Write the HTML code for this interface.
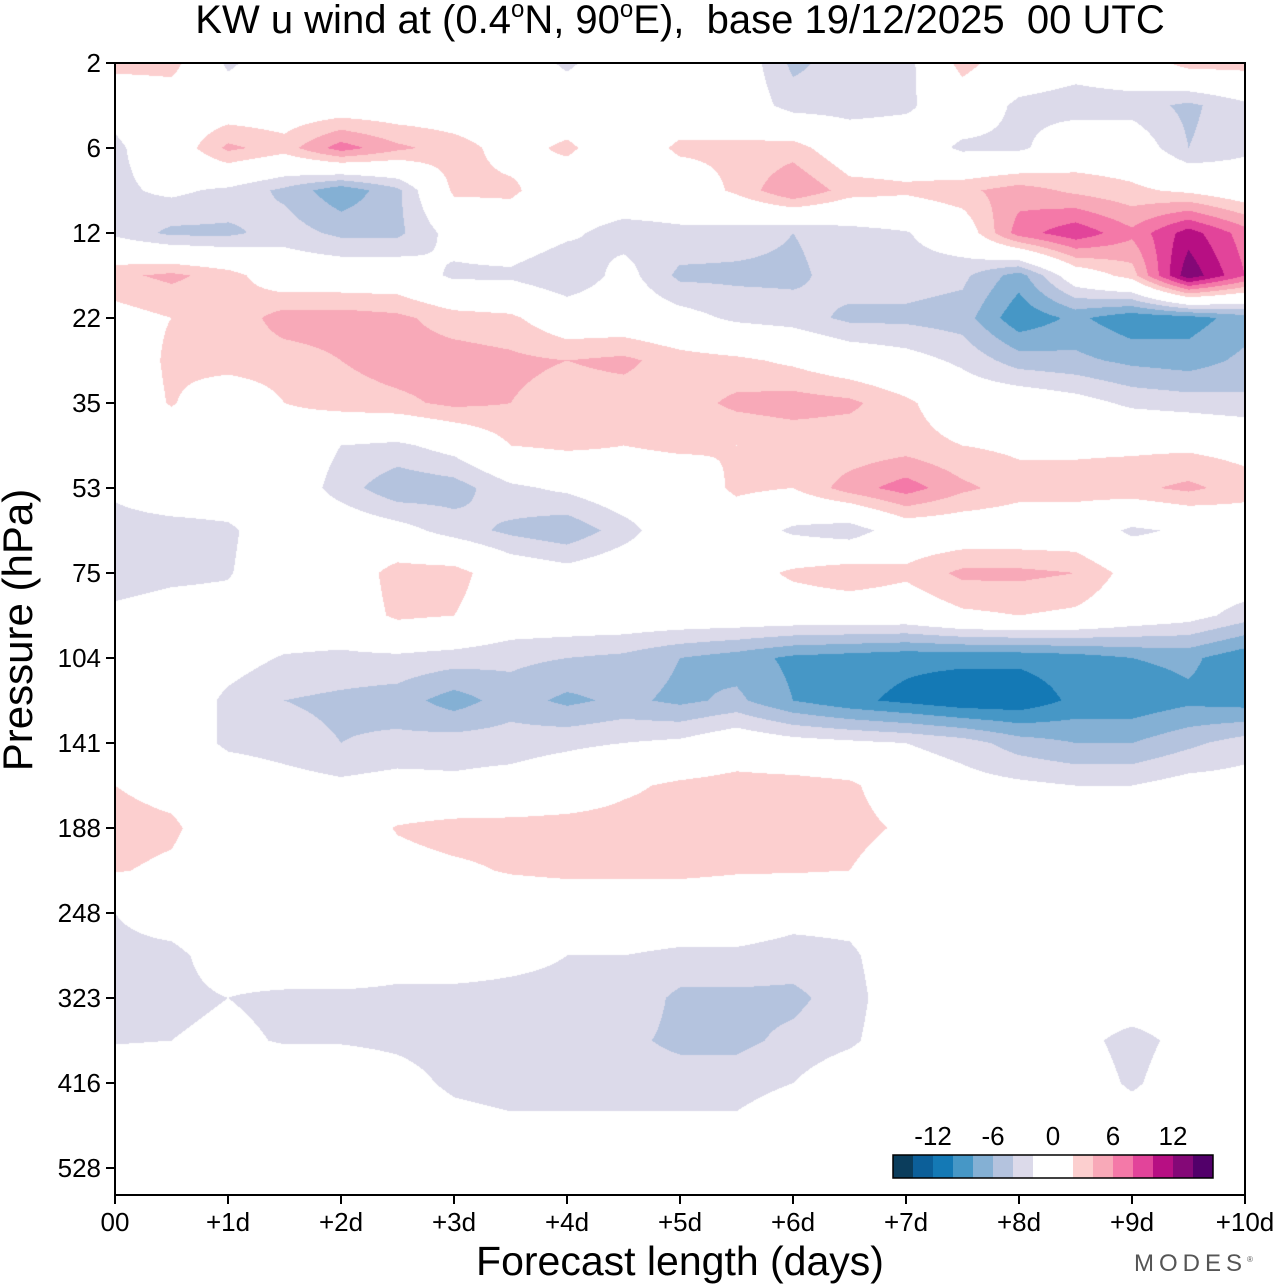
<!DOCTYPE html>
<html><head><meta charset="utf-8">
<style>
html,body{margin:0;padding:0;background:#fff;}
body{width:1280px;height:1286px;position:relative;overflow:hidden;font-family:"Liberation Sans",sans-serif;}
#plot{position:absolute;left:115px;top:63px;}
svg{position:absolute;left:0;top:0;}
</style></head>
<body>
<canvas id="plot" width="1130" height="1132"></canvas>
<svg id="ov" width="1280" height="1286"></svg>
<script>
// ---- data ----
const days = [0,0.5,1,1.5,2,2.5,3,3.5,4,4.5,5,5.5,6,6.5,7,7.5,8,8.5,9,9.5,10];
const levelRows = [0,0.5,1,1.5,2,2.5,3,3.5,4,4.5,5,5.5,6,6.5,7,7.5,8,8.5,9,9.5,10,10.5,11,11.5,12,12.5,13,13.5];
const pressureTicks = ["2","6","12","22","35","53","75","104","141","188","248","323","416","528"];
const dayTicks = ["00","+1d","+2d","+3d","+4d","+5d","+6d","+7d","+8d","+9d","+10d"];
const contourLevels = [-14,-12,-10,-8,-6,-4,-2,2,4,6,8,10,12,14];
const contourColors = ["#0b3d5c","#0c5f99","#1479b5","#4697c6","#84b0d4","#b4c3de","#dcdaea","#ffffff","#fccfcf","#f8a9b8","#f479a8","#e2449a","#b70f83","#840877","#52006a"];
const barLabels = ["-12","-6","0","6","12"];
const barLabelValues = [-12,-6,0,6,12];
const uWind = [
[3,3,-2.5,0,0,0,0,0,-2.5,0,0,0,-4.5,-3,-3,3,0,-1,0,3,3],
[-1,0,0,0,0,0,0,0,0,0,0,0,-3,-3,-2.5,0,-2.5,-3,-3,-4.5,-2.5],
[-2.5,0,4.5,3,7,4.5,3,1,2.5,0,2.5,2.5,3,0,0,-2.5,-2.5,0,0,-4,-2.5],
[-2.5,-1.5,-2.5,-4.5,-7.5,-4.5,2.5,2.5,0,0,0,2.5,6,3,2.5,3.5,5,3.5,2.5,1.5,0],
[-2.5,-4.5,-4.5,-3,-4.5,-4.5,-1,0,-1.5,-3,-2.5,-3,-4,-3,-2.2,0,7,9.5,6.5,11,7],
[3.5,4.5,3,0,0,0,-2.5,-2.5,-4,-1,-4.5,-4.5,-4.5,-3,-3,-3.5,-7,0,3,13.5,8],
[1,2,2.5,5,5,4.5,3,2.5,0,0,-1,-2.5,-3,-4.5,-4.5,-5,-9.5,-7.5,-9.5,-9,-7],
[0,2.5,3,3,4,5,5,4.5,4,4.5,3,2.5,1.5,0,-1,-2.5,-5,-5.5,-6.5,-7,-5.5],
[0,2.2,0,2,3,3.5,4.5,4,3,3,3,4.5,5,4.5,2.5,0,0,-1,-2.5,-3,-3.5],
[0,0,0,0,-2,-2.5,-1,2,2.5,2,2.5,2,2.5,2.5,3,2,1.5,1.5,1.5,1.5,1],
[-1.5,0,0,0,-3,-5.5,-5,-2.5,-1.5,0,0,2.5,2,5,7,4.5,3,3,3.5,4.5,3],
[-3,-3,-2.5,0,0,-1,-3,-4.5,-5.5,-3,0,0,-2.5,-3.5,0,0,0,0,-2.5,-1.5,0],
[-3,-2.5,-2.2,0,0,3,3,0,-1,0,0,0.5,2.5,3.5,2.5,4.5,4.5,4,1,0,0],
[-1.5,-1,-1,0,0,2.5,2,0,0,0,0,0,0,0,0,1.5,2,1.5,0,-1,-3],
[0,0,-1,-2.2,-2.5,-2.5,-3,-3.5,-4,-4.5,-6,-7,-8.5,-9,-9.5,-9.5,-9.5,-9,-8,-7.5,-9.5],
[0,0,-2.5,-4,-4.5,-5,-7,-5,-6.5,-5.5,-6.5,-5.5,-8,-9.5,-10.5,-11.5,-11.5,-9.5,-9.5,-8.5,-9],
[0,0,-2.5,-3,-4,-3.5,-3,-3,-2.5,-2,-1.5,0,-1,-1.5,-2,-3,-5,-6,-6,-4.5,-3],
[2,1,0,-1,-1.5,-1,-1.5,-1,0,1.5,2.5,3,3,2.5,0,-1,-1.5,-2,-2,-1,-1],
[3,2.5,0,0,0,2.2,3,3,3,3,3,3,3,3,1.5,0,0,0,0,0,0],
[2.2,1.5,0,0,0,1,1.5,2.2,2.5,2.5,2.5,2.2,2.2,2,0,0,0,0,0,0,0],
[-2,-1,0,0,0,0,0,0,0,0,0,0,-1,-1,0,0,0,0,0,0,0],
[-2.5,-2.5,-1,0,0,-1,-1,-1.5,-2,-2,-2.5,-2.5,-3,-2.5,0,0,0,0,0,0,0],
[-3,-2.5,-2,-2.5,-2.5,-2.5,-2.5,-2.5,-2.5,-2.5,-4.5,-4.5,-4.5,-3,0,0,0,0,0,0,0],
[-2.2,-2,-1.5,-2.2,-2.2,-2.5,-3,-3,-3,-3.5,-4.5,-4.5,-3.5,-2.5,0,0,0,-1,-3,-1,0],
[0,0,0,0,0,-1,-2.5,-3,-3,-3,-3,-3,-2,0,0,0,0,0,-2.5,0,0],
[0,0,0,0,0,0,-1,-1.5,-1.5,-1.5,-1.5,-1.5,0,0,0,0,0,0,0,0,0],
[0,0,0,0,0,0,0,0,0,0,0,0,0,0,0,0,0,0,0,0,0],
[0,0,0,0,0,0,0,0,0,0,0,0,0,0,0,0,0,0,0,0,0]
];
// ---- axes ----
const X0=115, X1=1245, Y0=63, YB=1195, PXD=113, PXL=85;
function xScale(d){return X0+PXD*d;}
function yScale(r){return Y0+PXL*r;}
function hex(c){return [parseInt(c.substr(1,2),16),parseInt(c.substr(3,2),16),parseInt(c.substr(5,2),16)];}
function sample(d,r){
  const dStep=days[1]-days[0], rStep=levelRows[1]-levelRows[0];
  let fi=(d-days[0])/dStep, fj=(r-levelRows[0])/rStep;
  fi=Math.max(0,Math.min(days.length-1.0001,fi)); fj=Math.max(0,Math.min(levelRows.length-1.0001,fj));
  const i=Math.floor(fi), j=Math.floor(fj), a=fi-i, b=fj-j;
  const v00=uWind[j][i], v01=uWind[j][i+1], v10=uWind[j+1][i], v11=uWind[j+1][i+1];
  return (v00*(1-a)+v01*a)*(1-b)+(v10*(1-a)+v11*a)*b;
}
// ---- draw field ----
const cv=document.getElementById('plot'), ctx=cv.getContext('2d');
const W=cv.width,H=cv.height, img=ctx.createImageData(W,H);
const rgb=contourColors.map(hex);
for(let py=0;py<H;py++){
  const r=(py+0.5)/PXL;
  for(let px=0;px<W;px++){
    const d=(px+0.5)/PXD;
    const v=sample(d,r);
    let k=0;while(k<contourLevels.length&&v>contourLevels[k])k++;
    const c=rgb[k], o=(py*W+px)*4;
    img.data[o]=c[0];img.data[o+1]=c[1];img.data[o+2]=c[2];img.data[o+3]=255;
  }
}
ctx.putImageData(img,0,0);
// ---- overlay ----
const NS="http://www.w3.org/2000/svg", ov=document.getElementById('ov');
function mk(tag,attrs,parent){const e=document.createElementNS(NS,tag);for(const k in attrs)e.setAttribute(k,attrs[k]);(parent||ov).appendChild(e);return e;}
const frame=mk('rect',{x:X0,y:Y0,width:X1-X0,height:YB-Y0,fill:'none',stroke:'#000','stroke-width':2});


pressureTicks.forEach((t,i)=>{
  const y=yScale(i);
  const tk=mk('line',{x1:X0-9,x2:X0,y1:y,y2:y,stroke:'#000','stroke-width':2});
  
  
  const tx=mk('text',{x:X0-14,y:y+9,'text-anchor':'end','font-size':26,'font-family':'Liberation Sans, sans-serif'});
  tx.textContent=t;
  
  
});
dayTicks.forEach((t,i)=>{
  const x=xScale(i);
  const tk=mk('line',{x1:x,x2:x,y1:YB,y2:YB+9,stroke:'#000','stroke-width':2});
  
  
  const tx=mk('text',{x:x,y:1231,'text-anchor':'middle','font-size':26,'font-family':'Liberation Sans, sans-serif'});
  tx.textContent=t;
  
  
});
// colorbar
const CB0=1053, CBU=10, cbTop=1155, cbH=23;
function cbX(v){return CB0+CBU*v;}
const edges=[-16].concat(contourLevels).concat([16]);
for(let k=0;k<contourColors.length;k++){
  const x=cbX(edges[k]), w=cbX(edges[k+1])-x;
  const r=mk('rect',{x:x,y:cbTop,width:w,height:cbH,fill:contourColors[k]});
  
  
}
const cbf=mk('rect',{x:cbX(-16),y:cbTop,width:cbX(16)-cbX(-16),height:cbH,fill:'none',stroke:'#000','stroke-width':1.5});


barLabels.forEach((t,i)=>{
  const tx=mk('text',{x:cbX(barLabelValues[i]),y:1145,'text-anchor':'middle','font-size':26,'font-family':'Liberation Sans, sans-serif'});
  tx.textContent=t;
  
  
});
</script>
<div style="position:absolute;left:0;width:1360px;top:-2px;text-align:center;font-size:40px;line-height:44px;">KW u wind at (0.4<sup style="font-size:24px;vertical-align:16px;line-height:0">o</sup>N, 90<sup style="font-size:24px;vertical-align:16px;line-height:0">o</sup>E),&nbsp; base 19/12/2025&nbsp; 00 UTC</div>
<div style="position:absolute;left:0;width:1360px;top:1238px;text-align:center;font-size:41px;line-height:46px;">Forecast length (days)</div>
<div style="position:absolute;left:-182px;top:607px;width:400px;text-align:center;font-size:42px;line-height:46px;transform:rotate(-90deg);">Pressure (hPa)</div>
<div style="position:absolute;left:1134px;top:1250px;font-size:24px;letter-spacing:5px;color:#555;">MODES<sup style="font-size:8px;letter-spacing:0">®</sup></div>
</body></html>
